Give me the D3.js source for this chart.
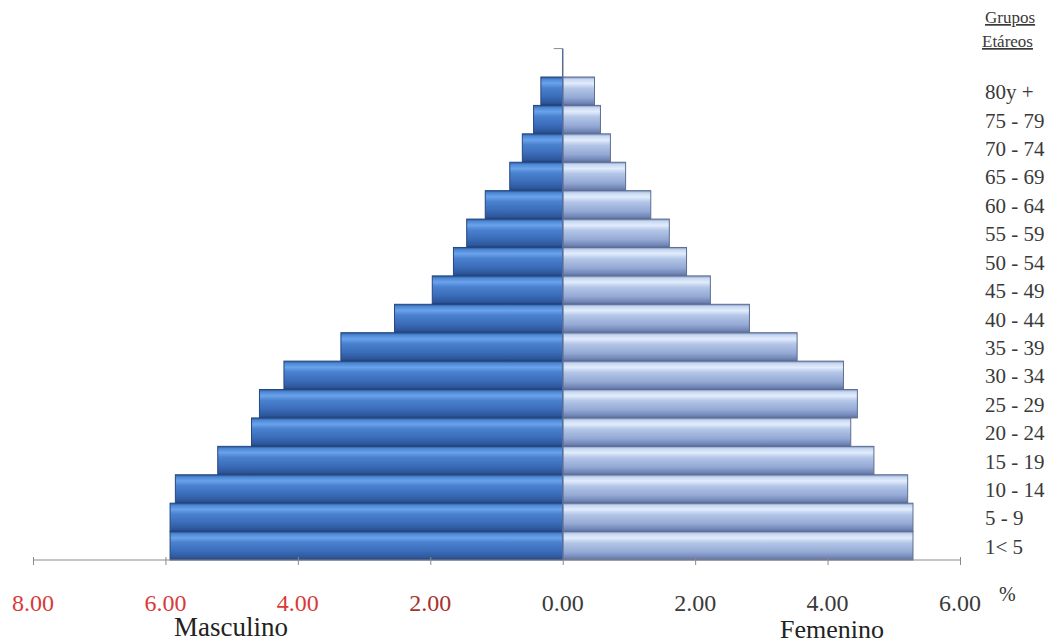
<!DOCTYPE html>
<html>
<head>
<meta charset="utf-8">
<script src="https://cdn.jsdelivr.net/npm/d3@7"></script>
<style>
  html, body { margin: 0; padding: 0; background: #fff; }
  svg { display: block; }
  text { font-family: "Liberation Serif", "Times New Roman", serif; }
</style>
</head>
<body>
<svg id="chart" width="1063" height="644"></svg>
<script>
const groups = ["80y +","75 - 79","70 - 74","65 - 69","60 - 64","55 - 59","50 - 54","45 - 49","40 - 44","35 - 39","30 - 34","25 - 29","20 - 24","15 - 19","10 - 14","5 - 9","1< 5"];
const masculino = [0.33,0.44,0.61,0.80,1.17,1.45,1.65,1.97,2.54,3.35,4.21,4.58,4.70,5.21,5.85,5.93,5.93];
const femenino  = [0.48,0.57,0.72,0.95,1.33,1.61,1.87,2.23,2.82,3.54,4.24,4.45,4.35,4.70,5.21,5.29,5.29];
const tickValues = [-8,-6,-4,-2,0,2,4,6];
const tickLabels = ["8.00","6.00","4.00","2.00","0.00","2.00","4.00","6.00"];

const svg = d3.select("#chart");
const x = d3.scaleLinear().domain([-8, 6]).range([33, 960]);
const y = d3.scaleBand().domain(groups).range([77, 560]).padding(0);

const defs = svg.append("defs");
function grad(id, stops) {
  const g = defs.append("linearGradient").attr("id", id)
    .attr("x1", 0).attr("y1", 0).attr("x2", 0).attr("y2", 1);
  stops.forEach(s => g.append("stop").attr("offset", s[0]).attr("stop-color", s[1]));
}
grad("gM", [[0,"#2b5596"],[0.08,"#4d88d6"],[0.22,"#6aa3ea"],[0.38,"#4a82d0"],[0.7,"#3a6bb8"],[0.92,"#2d5699"],[1,"#1f3f78"]]);
grad("gF", [[0,"#7f92ba"],[0.08,"#c6d7f2"],[0.22,"#e2ecfb"],[0.4,"#b3c6e8"],[0.72,"#94a9d4"],[0.92,"#7085b6"],[1,"#5a6b96"]]);

const data = groups.map((g, i) => ({ g, m: masculino[i], f: femenino[i] }));

// male bars
svg.append("g").selectAll("rect").data(data).join("rect")
  .attr("x", d => x(-d.m)).attr("y", d => y(d.g))
  .attr("width", d => x(0) - x(-d.m)).attr("height", y.bandwidth())
  .attr("fill", "url(#gM)").attr("stroke", "#24477f").attr("stroke-width", 1);

// female bars
svg.append("g").selectAll("rect").data(data).join("rect")
  .attr("x", x(0)).attr("y", d => y(d.g))
  .attr("width", d => x(d.f) - x(0)).attr("height", y.bandwidth())
  .attr("fill", "url(#gF)").attr("stroke", "#5d6d93").attr("stroke-width", 1);

// horizontal axis
const xAxis = d3.axisBottom(x).tickValues(tickValues).tickSize(6).tickFormat("");
const gx = svg.append("g").attr("transform", "translate(0,560)").call(xAxis);
gx.select(".domain").attr("stroke", "#8a8a8a").attr("d", `M${x(-8)},0H${x(6)}`);
gx.selectAll(".tick line").attr("stroke", "#8a8a8a").attr("y1", -3).attr("y2", 5);

svg.append("g").selectAll("text").data(tickValues).join("text")
  .attr("x", d => x(d)).attr("y", 611)
  .attr("text-anchor", "middle").attr("font-size", 24)
  .attr("fill", (d, i) => d < 0 ? (d === -2 ? "#a83030" : "#d83a3a") : "#3a3a3a")
  .text((d, i) => tickLabels[i]);

// vertical axis
const topY = y(groups[0]) - y.bandwidth();
svg.append("line").attr("x1", x(0)).attr("x2", x(0)).attr("y1", topY).attr("y2", 560)
  .attr("stroke", "#5a6b96").attr("stroke-width", 1.5);
svg.append("line").attr("x1", x(0) - 9).attr("x2", x(0)).attr("y1", topY).attr("y2", topY)
  .attr("stroke", "#8a8a8a").attr("stroke-width", 1);

// group labels
svg.append("g").selectAll("text").data(groups).join("text")
  .attr("x", 985).attr("y", d => y(d) + y.bandwidth() / 2 + 8)
  .attr("font-size", 21).attr("fill", "#3a3a3a")
  .text(d => d);

svg.append("text").attr("x", 985).attr("y", 23).attr("font-size", 17).attr("fill", "#3a3a3a")
  .attr("text-decoration", "underline").text("Grupos");
svg.append("text").attr("x", 982).attr("y", 47).attr("font-size", 17).attr("fill", "#3a3a3a")
  .attr("text-decoration", "underline").text("Etáreos");

svg.append("text").attr("x", 999).attr("y", 601).attr("font-size", 20).attr("fill", "#333").text("%");

svg.append("text").attr("x", 231).attr("y", 636).attr("text-anchor", "middle")
  .attr("font-size", 27).attr("fill", "#222").text("Masculino");
svg.append("text").attr("x", 832).attr("y", 638).attr("text-anchor", "middle")
  .attr("font-size", 26).attr("fill", "#222").text("Femenino");
</script>
</body>
</html>
